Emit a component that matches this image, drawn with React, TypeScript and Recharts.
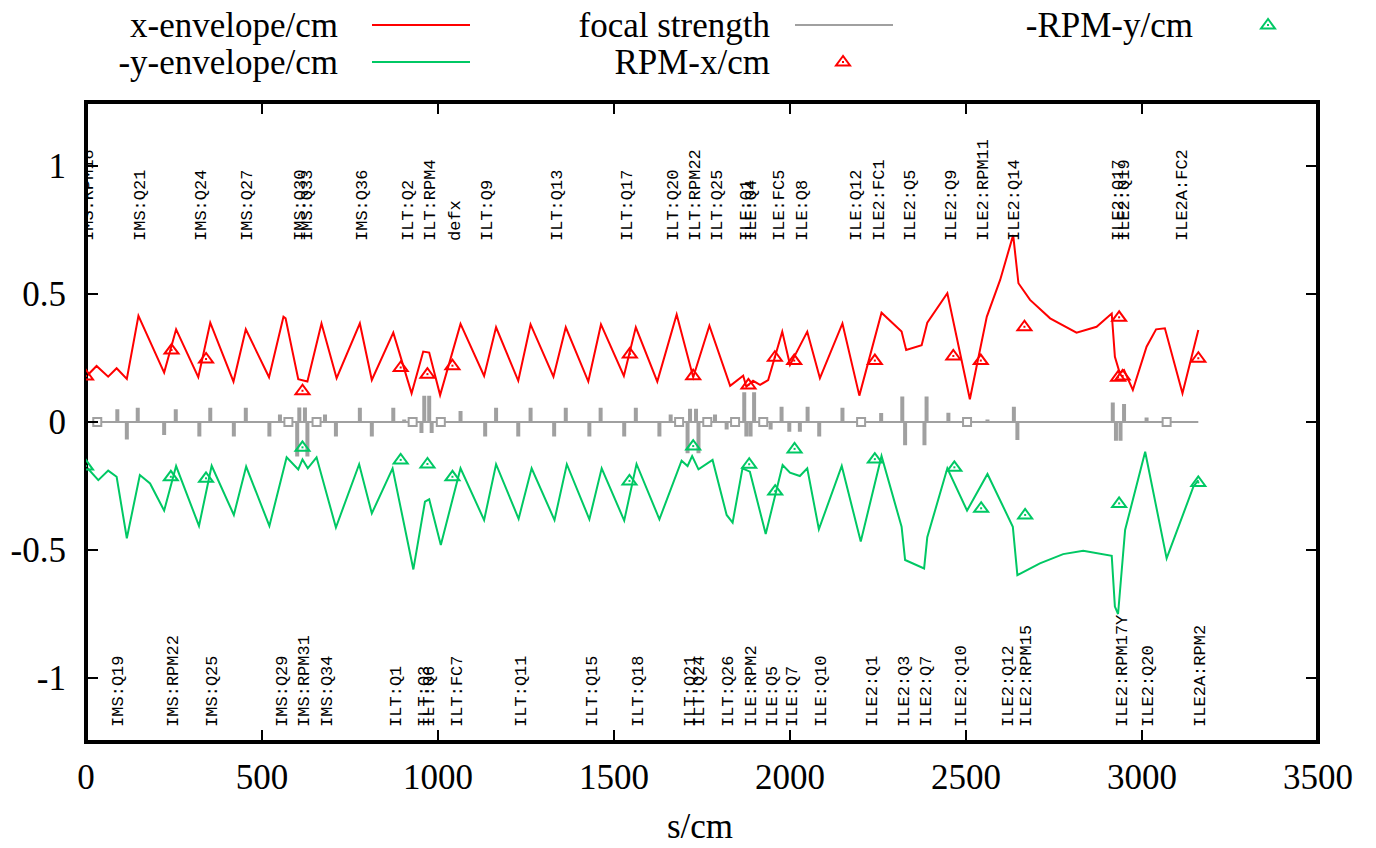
import React from 'react'
import { ComposedChart, Line, Scatter, XAxis, YAxis } from 'recharts'

// beam envelope along the line, s in cm
const xEnvS = [0, 30, 63, 87, 116, 149, 222, 256, 319, 353, 419, 454, 520, 561, 567, 603, 629, 669, 712, 778, 812, 873, 925, 958, 975, 1006, 1064, 1131, 1165, 1228, 1263, 1328, 1363, 1427, 1463, 1528, 1562, 1623, 1678, 1725, 1771, 1830, 1867, 1876, 1895, 1915, 1938, 1978, 2000, 2049, 2085, 2149, 2197, 2260, 2317, 2330, 2374, 2390, 2447, 2511, 2559, 2597, 2634, 2649, 2682, 2739, 2814, 2871, 2914, 2923, 2937, 2949, 2974, 3013, 3040, 3065, 3115, 3160]
const xEnvV = [0.177, 0.219, 0.177, 0.21, 0.168, 0.415, 0.193, 0.362, 0.175, 0.388, 0.158, 0.362, 0.175, 0.411, 0.405, 0.167, 0.158, 0.385, 0.171, 0.385, 0.164, 0.349, 0.112, 0.275, 0.271, 0.105, 0.383, 0.18, 0.37, 0.161, 0.381, 0.177, 0.37, 0.158, 0.381, 0.18, 0.37, 0.158, 0.42, 0.175, 0.376, 0.141, 0.181, 0.138, 0.161, 0.145, 0.164, 0.353, 0.223, 0.353, 0.171, 0.385, 0.103, 0.427, 0.353, 0.281, 0.3, 0.388, 0.503, 0.089, 0.411, 0.555, 0.73, 0.542, 0.477, 0.405, 0.349, 0.372, 0.424, 0.255, 0.19, 0.203, 0.125, 0.294, 0.362, 0.366, 0.112, 0.359]

const yEnvS = [0, 35, 63, 87, 116, 153, 182, 222, 256, 321, 357, 420, 455, 521, 570, 603, 615, 630, 655, 710, 776, 812, 871, 930, 963, 975, 1008, 1064, 1131, 1165, 1229, 1266, 1331, 1366, 1430, 1465, 1529, 1564, 1629, 1692, 1709, 1722, 1740, 1780, 1820, 1837, 1865, 1886, 1931, 1979, 2000, 2028, 2049, 2082, 2147, 2201, 2260, 2317, 2327, 2381, 2390, 2447, 2503, 2561, 2633, 2646, 2710, 2776, 2833, 2914, 2923, 2932, 2952, 3009, 3070, 3146, 3160]
const yEnvV = [-0.174, -0.227, -0.19, -0.214, -0.454, -0.207, -0.24, -0.346, -0.172, -0.406, -0.171, -0.363, -0.174, -0.406, -0.138, -0.185, -0.146, -0.181, -0.138, -0.412, -0.165, -0.357, -0.181, -0.576, -0.311, -0.302, -0.48, -0.181, -0.383, -0.165, -0.378, -0.181, -0.383, -0.165, -0.38, -0.181, -0.385, -0.164, -0.38, -0.151, -0.172, -0.133, -0.185, -0.148, -0.363, -0.393, -0.181, -0.194, -0.4375, -0.168, -0.198, -0.211, -0.181, -0.419, -0.172, -0.467, -0.133, -0.409, -0.539, -0.572, -0.45, -0.181, -0.346, -0.203, -0.409, -0.598, -0.552, -0.516, -0.503, -0.523, -0.721, -0.75, -0.422, -0.116, -0.533, -0.253, -0.227]

// quadrupole strengths
const quadS = [89, 116, 147, 222, 255, 322, 353, 420, 454, 521, 551, 600, 606, 622, 629, 679, 710, 778, 812, 873, 904, 953, 961, 975, 982, 1064, 1134, 1165, 1228, 1263, 1330, 1363, 1430, 1462, 1529, 1562, 1629, 1661, 1709, 1716, 1733, 1740, 1787, 1820, 1870, 1876, 1888, 1898, 1945, 1976, 1998, 2028, 2050, 2083, 2149, 2259, 2319, 2327, 2382, 2388, 2450, 2561, 2636, 2646, 2917, 2926, 2939, 2949, 3013]
const quadK = [0.05, -0.068, 0.056, -0.051, 0.05, -0.057, 0.056, -0.057, 0.056, -0.057, 0.029, -0.135, 0.057, 0.057, -0.135, 0.029, -0.057, 0.056, -0.057, 0.056, 0.01, -0.043, 0.103, 0.103, -0.043, 0.043, -0.057, 0.056, -0.057, 0.056, -0.057, 0.056, -0.057, 0.056, -0.057, 0.056, -0.057, 0.029, -0.122, 0.052, 0.052, -0.122, 0.029, -0.029, 0.116, -0.057, -0.057, 0.116, -0.029, 0.06, -0.038, -0.038, 0.06, -0.057, 0.056, 0.035, 0.1, -0.091, -0.091, 0.1, 0.036, 0.01, 0.06, -0.07, 0.076, -0.073, -0.073, 0.07, 0.018]
const markerS = [32, 575, 655, 928, 1008, 1685, 1765, 1844, 1924, 2202, 2503, 3070]
const lineEnds = [0, 3160]

// beam profile monitors
const rpmXS = [0, 243, 341, 615, 894, 970, 1041, 1545, 1725, 1882, 1957, 2012, 2241, 2464, 2542, 2666, 2935, 2932, 2945, 3160]
const rpmXV = [0.18, 0.281, 0.246, 0.122, 0.213, 0.187, 0.22, 0.266, 0.181, 0.145, 0.253, 0.24, 0.24, 0.258, 0.24, 0.372, 0.409, 0.175, 0.18, 0.249]
const rpmYS = [0, 241, 341, 615, 894, 970, 1041, 1544, 1725, 1884, 1958, 2013, 2241, 2467, 2543, 2668, 2935, 3160]
const rpmYV = [-0.172, -0.214, -0.22, -0.099, -0.148, -0.164, -0.214, -0.23, -0.094, -0.165, -0.27, -0.105, -0.145, -0.177, -0.337, -0.363, -0.318, -0.236]

// element names
const topNames = ['IMS:RPM18', 'IMS:Q21', 'IMS:Q24', 'IMS:Q27', 'IMS:Q30', 'IMS:Q33', 'IMS:Q36', 'ILT:Q2', 'ILT:RPM4', 'defx', 'ILT:Q9', 'ILT:Q13', 'ILT:Q17', 'ILT:Q20', 'ILT:RPM22', 'ILT:Q25', 'ILE:Q1', 'ILE:Q4', 'ILE:FC5', 'ILE:Q8', 'ILE:Q12', 'ILE2:FC1', 'ILE2:Q5', 'ILE2:Q9', 'ILE2:RPM11', 'ILE2:Q14', 'ILE2:Q17', 'ILE2:Q19', 'ILE2A:FC2']
const topPos = [4, 151, 324, 454, 605, 624, 780, 912, 974, 1045, 1136, 1335, 1533, 1664, 1727, 1791, 1872, 1886, 1967, 2032, 2185, 2250, 2337, 2455, 2546, 2634, 2930, 2947, 3111]
const bottomNames = ['IMS:Q19', 'IMS:RPM22', 'IMS:Q25', 'IMS:Q29', 'IMS:RPM31', 'IMS:Q34', 'ILT:Q1', 'ILT:Q3', 'ILT:Q6', 'ILT:FC7', 'ILT:Q11', 'ILT:Q15', 'ILT:Q18', 'ILT:Q21', 'ILT:Q24', 'ILT:Q26', 'ILE:RPM2', 'ILE:Q5', 'ILE:Q7', 'ILE:Q10', 'ILE2:Q1', 'ILE2:Q3', 'ILE2:Q7', 'ILE2:Q10', 'ILE2:Q12', 'ILE2:RPM15', 'ILE2:RPM17Y', 'ILE2:Q20', 'ILE2A:RPM2']
const bottomPos = [89, 245, 355, 554, 617, 681, 878, 956, 973, 1050, 1233, 1434, 1564, 1713, 1740, 1822, 1886, 1945, 2002, 2085, 2231, 2322, 2384, 2483, 2616, 2669, 2940, 3015, 3163]

const xTicks = [0, 500, 1000, 1500, 2000, 2500, 3000, 3500]
const yTicks = [-1, -0.5, 0, 0.5, 1]

const RED = '#ff0000'
const GREEN = '#00c864'
const GRAY = '#a0a0a0'
const serif = '"Liberation Serif", "Times New Roman", serif'
const mono = '"Liberation Mono", "Courier New", monospace'
const FS = 35

const zip = (s: number[], v: number[]) => s.map((x, i) => ({ s: x, v: v[i] }))

const xEnv = zip(xEnvS, xEnvV)
const yEnv = zip(yEnvS, yEnvV)
const rpmX = zip(rpmXS, rpmXV)
const rpmY = zip(rpmYS, rpmYV)
const focal = quadS.flatMap((s, i) => [{ s, v: 0 }, { s, v: quadK[i] }, { s, v: null }])
const baseline = lineEnds.map(s => ({ s, v: 0 }))
const markers = markerS.map(s => ({ s, v: 0 }))
const topLabels = topNames.map((name, i) => ({ s: topPos[i], v: 0.707, name }))
const bottomLabels = bottomNames.map((name, i) => ({ s: bottomPos[i], v: -1.191, name }))

const Triangle = (color: string) => (props: any) => {
    const { cx, cy } = props
    return (
        <g>
            <polygon points={`${cx},${cy - 6} ${cx - 7},${cy + 3.5} ${cx + 7},${cy + 3.5}`} fill="none" stroke={color} strokeWidth={2} />
            <rect x={cx - 1} y={cy - 1} width={2} height={2} fill={color} />
        </g>
    )
}

const Square = (props: any) => {
    const { cx, cy } = props
    return <rect x={cx - 4} y={cy - 4} width={8} height={8} fill="#fff" stroke={GRAY} strokeWidth={2} />
}

const NameLabel = (props: any) => {
    const { cx, cy, payload } = props
    const bx = cx + 6
    return (
        <text x={bx} y={cy} transform={`rotate(-90 ${bx} ${cy})`} fontFamily={mono} fontSize={17} fill="#000">
            {payload.name}
        </text>
    )
}

const BottomTick = (props: any) => {
    const { x, y, payload } = props
    return (
        <g>
            <line x1={x} y1={y} x2={x} y2={y - 12} stroke="#000" strokeWidth={2} />
            <text x={x} y={y + 47} textAnchor="middle" fontFamily={serif} fontSize={FS} fill="#000">{payload.value}</text>
        </g>
    )
}
const TopTick = (props: any) => {
    const { x, y } = props
    return <line x1={x} y1={y} x2={x} y2={y + 12} stroke="#000" strokeWidth={2} />
}
const LeftTick = (props: any) => {
    const { x, y, payload } = props
    return (
        <g>
            <line x1={x} y1={y} x2={x + 12} y2={y} stroke="#000" strokeWidth={2} />
            <text x={x - 20} y={y + 12} textAnchor="end" fontFamily={serif} fontSize={FS} fill="#000">{payload.value}</text>
        </g>
    )
}
const RightTick = (props: any) => {
    const { x, y } = props
    return <line x1={x} y1={y} x2={x - 12} y2={y} stroke="#000" strokeWidth={2} />
}

const frame = { stroke: '#000', strokeWidth: 4, strokeLinecap: 'square' as const }

function Legend() {
    const t = { fontFamily: serif, fontSize: FS, fill: '#000' }
    return (
        <svg width={1376} height={848} style={{ position: 'absolute', left: 0, top: 0, pointerEvents: 'none' }}>
            <text x={338} y={37} textAnchor="end" {...t}>x-envelope/cm</text>
            <line x1={372} y1={25} x2={470} y2={25} stroke={RED} strokeWidth={2} />
            <text x={338} y={74} textAnchor="end" {...t}>-y-envelope/cm</text>
            <line x1={372} y1={62} x2={470} y2={62} stroke={GREEN} strokeWidth={2} />
            <text x={770} y={37} textAnchor="end" {...t}>focal strength</text>
            <line x1={795} y1={25} x2={893} y2={25} stroke={GRAY} strokeWidth={2} />
            <text x={770} y={74} textAnchor="end" {...t}>RPM-x/cm</text>
            {Triangle(RED)({ cx: 843, cy: 62 })}
            <text x={1193} y={37} textAnchor="end" {...t}>-RPM-y/cm</text>
            {Triangle(GREEN)({ cx: 1268, cy: 25 })}
            <text x={700} y={838} textAnchor="middle" {...t}>s/cm</text>
        </svg>
    )
}

export default function App() {
    return (
        <div style={{ position: 'absolute', left: 0, top: 0, width: 1376, height: 848, background: '#fff' }}>
            <ComposedChart width={1376} height={848} margin={{ top: 92, right: 48, bottom: 46, left: 6 }}>
                <XAxis dataKey="s" type="number" domain={[0, 3500]} ticks={xTicks} interval={0} allowDataOverflow
                    height={60} tickSize={0} tickMargin={0} tickLine={false} axisLine={frame} tick={<BottomTick />} />
                <XAxis xAxisId="top" orientation="top" dataKey="s" type="number" domain={[0, 3500]} ticks={xTicks} interval={0}
                    allowDataOverflow height={10} tickSize={0} tickMargin={0} tickLine={false} axisLine={frame} tick={<TopTick />} />
                <YAxis dataKey="v" type="number" domain={[-1.25, 1.25]} ticks={yTicks} interval={0} allowDataOverflow
                    width={80} tickSize={0} tickMargin={0} tickLine={false} axisLine={frame} tick={<LeftTick />} />
                <YAxis yAxisId="right" orientation="right" dataKey="v" type="number" domain={[-1.25, 1.25]} ticks={yTicks}
                    interval={0} allowDataOverflow width={10} tickSize={0} tickMargin={0} tickLine={false} axisLine={frame} tick={<RightTick />} />
                <Line data={baseline} dataKey="v" stroke={GRAY} strokeWidth={2} dot={false} isAnimationActive={false} />
                <Line data={focal} dataKey="v" stroke={GRAY} strokeWidth={4} dot={false} connectNulls={false} isAnimationActive={false} />
                <Scatter data={markers} dataKey="v" shape={Square} isAnimationActive={false} />
                <Line data={xEnv} dataKey="v" stroke={RED} strokeWidth={2} dot={false} isAnimationActive={false} />
                <Line data={yEnv} dataKey="v" stroke={GREEN} strokeWidth={2} dot={false} isAnimationActive={false} />
                <Scatter data={rpmX} dataKey="v" shape={Triangle(RED)} isAnimationActive={false} />
                <Scatter data={rpmY} dataKey="v" shape={Triangle(GREEN)} isAnimationActive={false} />
                <Scatter data={topLabels} dataKey="v" shape={NameLabel} isAnimationActive={false} />
                <Scatter data={bottomLabels} dataKey="v" shape={NameLabel} isAnimationActive={false} />
            </ComposedChart>
            <Legend />
        </div>
    )
}
